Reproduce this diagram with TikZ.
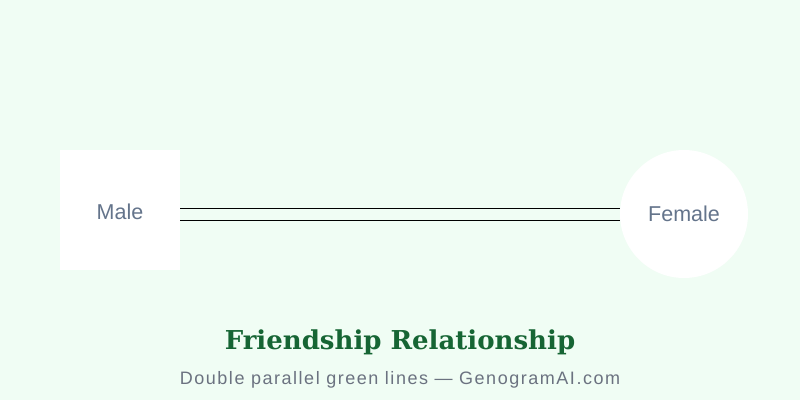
\documentclass[tikz,border=0pt]{standalone}
\usepackage{fontspec}
\setmainfont{Liberation Sans}
\newfontfamily\titlefont{DejaVu Serif}
\newfontfamily\subfont[LetterSpace=8.5]{Liberation Sans}
\definecolor{bgmint}{HTML}{F0FDF4}
\definecolor{labelgray}{HTML}{64748B}
\definecolor{titlegreen}{HTML}{166534}
\definecolor{subgray}{HTML}{6B7280}
\tikzset{
  person/.style={fill=white, inner sep=0pt, text=labelgray, font=\fontsize{21.5}{25}\selectfont},
  male/.style={person, rectangle, minimum size=120pt},
  female/.style={person, circle, minimum size=128pt},
  tie/.style={black, line width=0.9pt}
}

\begin{document}
\begin{tikzpicture}[x=1pt, y=1pt]
    \fill[bgmint] (0,0) rectangle (800,400);
    \useasboundingbox (0,0) rectangle (800,400);
    \node[male] (male) at (120,190) {\raisebox{-2pt}[\height][\depth]{Male}};
    \node[female] (female) at (684,186) {Female};
    % friendship: two parallel lines
    \draw[tie] ([yshift=2pt]male.east) -- ([yshift=2pt]male.east -| female.west);
    \draw[tie] ([yshift=-10pt]male.east) -- ([yshift=-10pt]male.east -| female.west);
    \node[text=titlegreen, font=\titlefont\bfseries\fontsize{26}{30}\selectfont] (title) at (400,58) {Friendship Relationship};
    \node[text=subgray, font=\subfont\fontsize{18}{21}\selectfont] (subtitle) at (400,20) {Double parallel green lines — GenogramAI.com};
  \end{tikzpicture}
\end{document}
